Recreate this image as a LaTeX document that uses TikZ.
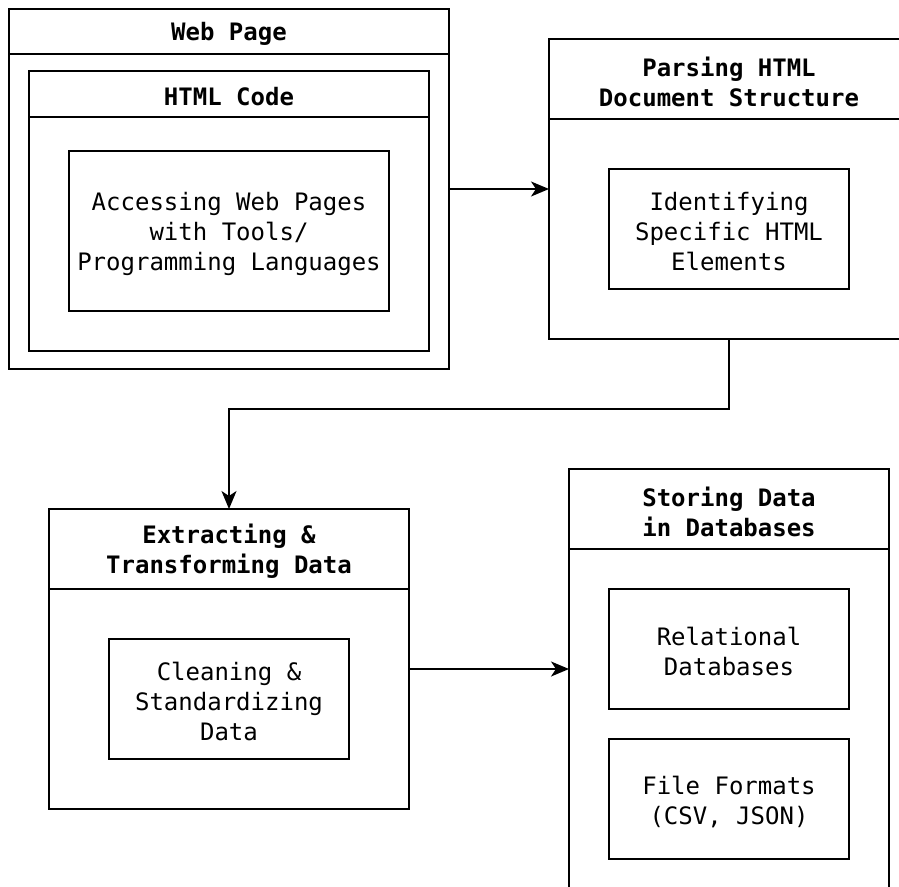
\documentclass[tikz,border=0pt]{standalone}
\usepackage{fontspec}
\setmonofont{DejaVu Sans Mono}
\usetikzlibrary{arrows.meta}
\begin{document}
\begin{tikzpicture}[x=1pt,y=-1pt,
  box/.style={draw, line width=2pt, rectangle, inner sep=0pt, outer sep=0pt},
  body/.style={font=\ttfamily\fontsize{24}{30}\selectfont, align=center, yshift=-2.5pt},
  head/.style={font=\ttfamily\bfseries\fontsize{24}{30}\selectfont, align=center, yshift=-2.5pt},
  sep/.style={line width=2pt},
  link/.style={line width=2pt, -{Stealth[length=18pt,width=15pt,inset=5pt]}}]
\useasboundingbox (0,0) rectangle (899,886);
\clip (0,0) rectangle (899,886);

% Web page container with nested HTML code panel
\node[box, minimum width=440, minimum height=360] (web) at (229,189) {};
\draw[sep] (web.west |- 0,54) -- (web.east |- 0,54);
\node[head] (webtitle) at (229,31.5) {Web Page};
\node[box, minimum width=400, minimum height=280] (html) at (229,211) {};
\draw[sep] (html.west |- 0,117) -- (html.east |- 0,117);
\node[head] (htmltitle) at (229,94) {HTML Code};
\node[box, minimum width=320, minimum height=160] (access) at (229,231) {};
\node[body] (accesstext) at (access.center)
  {Accessing Web Pages\\with Tools/\\Programming Languages};

% Parsing stage
\node[box, minimum width=360, minimum height=300] (parse) at (729,189) {};
\draw[sep] (parse.west |- 0,119) -- (parse.east |- 0,119);
\node[head] (parsetitle) at (729,79) {Parsing HTML\\Document Structure};
\node[box, minimum width=240, minimum height=120] (ident) at (729,229) {};
\node[body] (identtext) at (ident.center) {Identifying\\Specific HTML\\Elements};

% Extraction stage
\node[box, minimum width=360, minimum height=300] (extract) at (229,659) {};
\draw[sep] (extract.west |- 0,589) -- (extract.east |- 0,589);
\node[head] (extracttitle) at (229,549) {Extracting \&\\Transforming Data};
\node[box, minimum width=240, minimum height=120] (clean) at (229,699) {};
\node[body] (cleantext) at (clean.center) {Cleaning \&\\Standardizing\\Data};

% Storage stage
\node[box, minimum width=320, minimum height=440] (store) at (729,689) {};
\draw[sep] (store.west |- 0,549) -- (store.east |- 0,549);
\node[head] (storetitle) at (729,509) {Storing Data\\in Databases};
\node[box, minimum width=240, minimum height=120] (rel) at (729,649) {};
\node[body] (reltext) at (rel.center) {Relational\\Databases};
\node[box, minimum width=240, minimum height=120] (files) at (729,799) {};
\node[body] (filestext) at (files.center) {File Formats\\(CSV, JSON)};

% Connectors
\coordinate (mid) at (0,669);
\draw[link] (web.east) -- (parse.west);
\draw[link] (parse.south) -- ++(0,70) -| (extract.north);
\draw[link] (extract.east |- mid) -- (store.west |- mid);
\end{tikzpicture}
\end{document}
